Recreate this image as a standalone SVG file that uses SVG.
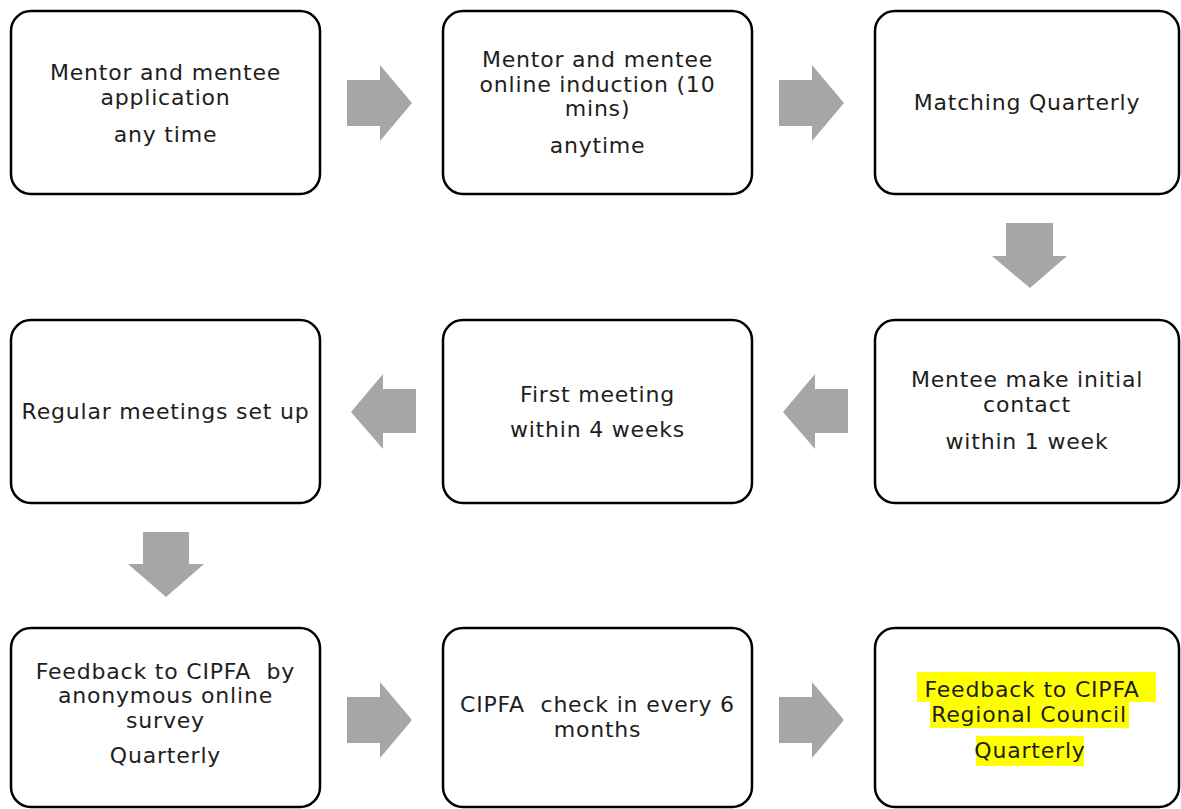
<svg xmlns="http://www.w3.org/2000/svg" width="1181" height="809" viewBox="0 0 1181 809">
<style>
.box{fill:#ffffff;stroke:#000000;stroke-width:2.5}
.arr{fill:#a6a6a6;stroke:none}
.t{font-family:"DejaVu Sans","Liberation Sans",sans-serif;font-size:22px;letter-spacing:0.8px;fill:#1e1e1e;text-anchor:middle;white-space:pre}
.hl{fill:#ffff00}
</style>
<rect width="1181" height="809" fill="#ffffff"/>
<g id="connectors">
<polygon class="arr" points="347,80 380,80 380,65 412,103 380,141 380,126 347,126"/>
<polygon class="arr" points="779,80 812,80 812,65 844,103 812,141 812,126 779,126"/>
<polygon class="arr" points="1006,223 1053,223 1053,256 1067,256 1030,288 992,256 1006,256"/>
<polygon class="arr" points="848,389 815,389 815,374 783,412 815,449 815,433 848,433"/>
<polygon class="arr" points="416,389 383,389 383,374 351,412 383,449 383,433 416,433"/>
<polygon class="arr" points="143,532 189,532 189,564 204,564 166,597 128,564 143,564"/>
<polygon class="arr" points="347,697 380,697 380,682 412,720 380,758 380,743 347,743"/>
<polygon class="arr" points="779,697 812,697 812,682 844,720 812,758 812,743 779,743"/>
</g>
<g id="node1">
<rect class="box" x="11" y="11" width="309" height="183" rx="20"/>
<text class="t" x="165.5" y="80">Mentor and mentee</text>
<text class="t" x="165.5" y="105">application</text>
<text class="t" x="165.5" y="142">any time</text>
</g>
<g id="node2">
<rect class="box" x="443" y="11" width="309" height="183" rx="20"/>
<text class="t" x="597.5" y="67">Mentor and mentee</text>
<text class="t" x="597.5" y="92">online induction (10</text>
<text class="t" x="597.5" y="116">mins)</text>
<text class="t" x="597.5" y="153">anytime</text>
</g>
<g id="node3">
<rect class="box" x="875" y="11" width="304" height="183" rx="20"/>
<text class="t" x="1027" y="110">Matching Quarterly</text>
</g>
<g id="node4">
<rect class="box" x="875" y="320" width="304" height="183" rx="20"/>
<text class="t" x="1027" y="387">Mentee make initial</text>
<text class="t" x="1027" y="412">contact</text>
<text class="t" x="1027" y="449">within 1 week</text>
</g>
<g id="node5">
<rect class="box" x="443" y="320" width="309" height="183" rx="20"/>
<text class="t" x="597.5" y="402">First meeting</text>
<text class="t" x="597.5" y="437">within 4 weeks</text>
</g>
<g id="node6">
<rect class="box" x="11" y="320" width="309" height="183" rx="20"/>
<text class="t" x="165.5" y="419">Regular meetings set up</text>
</g>
<g id="node7">
<rect class="box" x="11" y="628" width="309" height="179" rx="20"/>
<text class="t" x="165.5" y="679">Feedback to CIPFA  by</text>
<text class="t" x="165.5" y="703">anonymous online</text>
<text class="t" x="165.5" y="728">survey</text>
<text class="t" x="165.5" y="763">Quarterly</text>
</g>
<g id="node8">
<rect class="box" x="443" y="628" width="309" height="179" rx="20"/>
<text class="t" x="597.5" y="712">CIPFA  check in every 6</text>
<text class="t" x="597.5" y="737">months</text>
</g>
<g id="node9">
<rect class="box" x="875" y="628" width="304" height="179" rx="20"/>
<rect class="hl" x="917" y="672" width="239" height="30"/>
<rect class="hl" x="930" y="702" width="199" height="26"/>
<rect class="hl" x="976" y="736" width="108" height="30"/>
<text class="t" x="1036" y="697">Feedback to CIPFA </text>
<text class="t" x="1029" y="722">Regional Council</text>
<text class="t" x="1030" y="758">Quarterly</text>
</g>
</svg>
